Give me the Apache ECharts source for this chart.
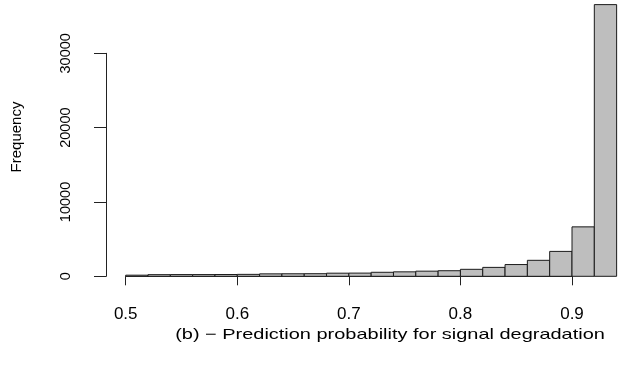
<!DOCTYPE html>
<html>
<head>
<meta charset="utf-8">
<script src="https://cdn.jsdelivr.net/npm/echarts@6/dist/echarts.min.js"></script>
<style>html,body{margin:0;padding:0;background:#fff}#c{width:627px;height:365px}</style>
</head>
<body>
<div id="c"></div>
<script>
// Histogram bins (left edges), bin width 0.02
var binStarts = [0.50,0.52,0.54,0.56,0.58,0.60,0.62,0.64,0.66,0.68,0.70,0.72,0.74,0.76,0.78,0.80,0.82,0.84,0.86,0.88,0.90,0.92];
var binWidth = 0.02;
var counts = [150,220,230,230,240,260,330,340,350,420,430,540,600,690,750,940,1200,1580,2150,3350,6650,36550];
var xTicks = [0.5,0.6,0.7,0.8,0.9];
var yTicks = [0,10000,20000,30000];
var xTitle = '(b) \u2212 Prediction probability for signal degradation';
var yTitle = 'Frequency';

var data = binStarts.map(function(s,i){ return [s, s+binWidth, counts[i]]; });
var font = '"Liberation Sans", Arial, Helvetica, sans-serif';

var chart = echarts.init(document.getElementById('c'), null, {renderer:'canvas'});
chart.setOption({
  animation:false,
  backgroundColor:'#fff',
  grid:{left:125.7, right:55, top:53.3, bottom:88.7},
  xAxis:{
    type:'value', min:xTicks[0], max:xTicks[xTicks.length-1], interval:0.1,
    offset:11.4,
    splitLine:{show:false},
    axisLine:{show:true, lineStyle:{color:'#222', width:1}},
    axisTick:{show:true, length:9, lineStyle:{color:'#222', width:1}},
    axisLabel:{fontFamily:font, fontSize:17, color:'#000', margin:18,
      formatter:function(v){ return v.toFixed(1); }}
  },
  yAxis:{
    type:'value', min:yTicks[0], max:yTicks[yTicks.length-1], interval:10000,
    offset:19.7,
    splitLine:{show:false},
    axisLine:{show:true, lineStyle:{color:'#222', width:1}},
    axisTick:{show:true, length:12, lineStyle:{color:'#222', width:1}},
    axisLabel:{fontFamily:font, fontSize:14.5, color:'#000', rotate:90, margin:33,
      formatter:function(v){ return String(v); }}
  },
  series:[{
    type:'custom',
    clip:false,
    data:data,
    encode:{x:[0,1], y:2},
    renderItem:function(params, api){
      var p0 = api.coord([api.value(0), api.value(2)]);
      var p1 = api.coord([api.value(1), 0]);
      return {
        type:'rect',
        shape:{x:p0[0], y:p0[1], width:p1[0]-p0[0], height:p1[1]-p0[1]},
        style:{fill:'#bebebe', stroke:'#1a1a1a', lineWidth:1}
      };
    }
  }],
  graphic:[
    {type:'text', x:390, y:335, scaleX:1.33, scaleY:1, originX:0, originY:0,
      style:{text:xTitle, font:'15px '+font, fill:'#000', textAlign:'center', textVerticalAlign:'middle'}},
    {type:'text', x:17, y:137, rotation:Math.PI/2, originX:0, originY:0,
      style:{text:yTitle, font:'15px '+font, fill:'#000', textAlign:'center', textVerticalAlign:'middle'}}
  ]
});
</script>
</body>
</html>
